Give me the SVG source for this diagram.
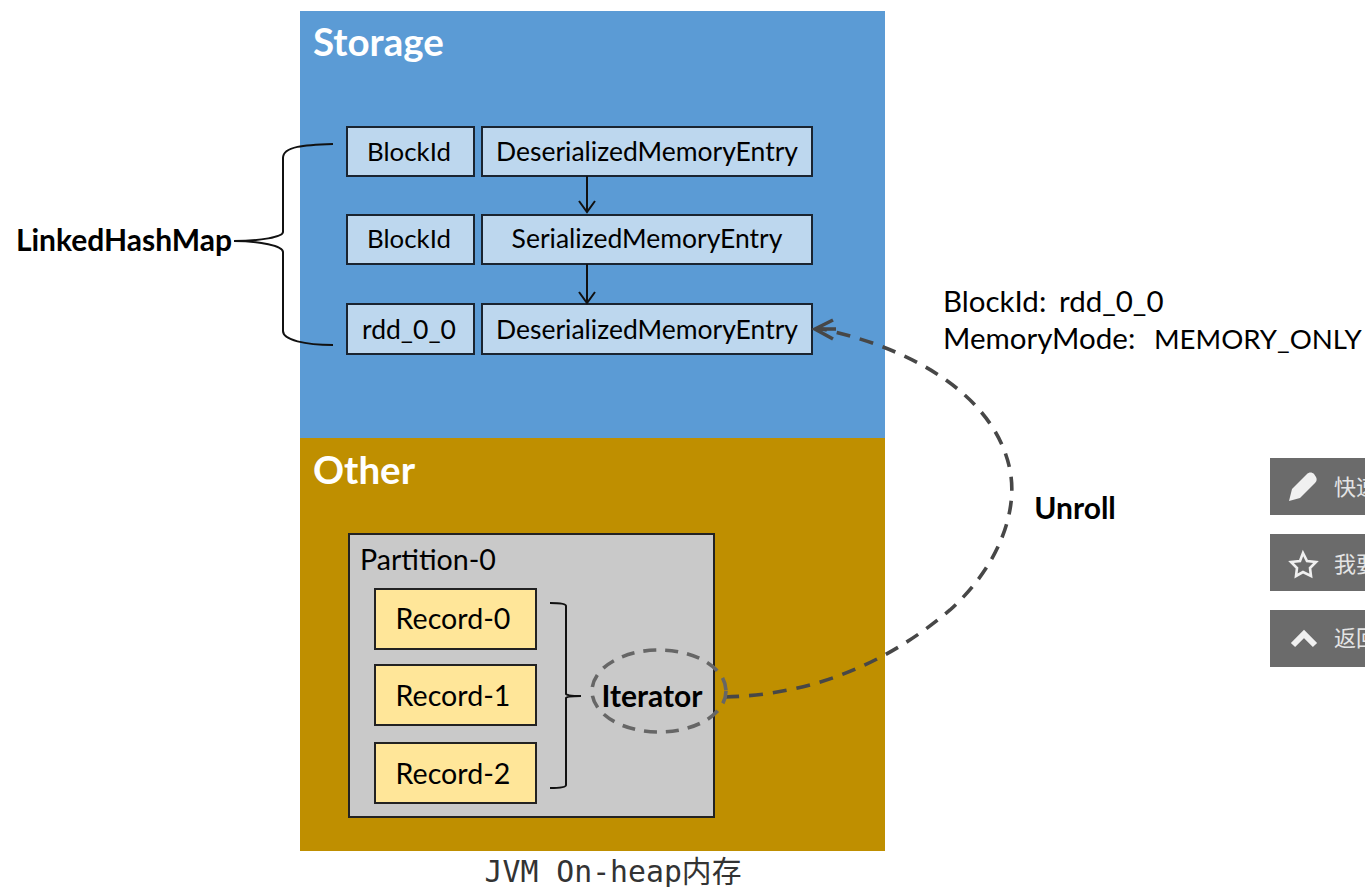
<svg xmlns="http://www.w3.org/2000/svg" width="1365" height="887" viewBox="0 0 1365 887">
<style>
text{font-family:Lato,"Noto Sans",sans-serif;fill:#000;text-anchor:middle}
.h{font-size:38.5px;font-weight:700;fill:#fff;text-anchor:start}
.t{font-size:26.5px}
.k{font-size:25.8px}
.r{font-size:28.6px}
.b{font-size:30px;font-weight:700}
.l{font-size:29.5px;text-anchor:start}
.box{fill:#bdd7ee;stroke:#1a2430;stroke-width:2}
.rec{fill:#ffe699;stroke:#222;stroke-width:2}
.line{fill:none;stroke:#111;stroke-width:2}
.dash{fill:none;stroke:#474747;stroke-width:3.6;stroke-dasharray:14 10}
.btn{fill:#6b6b6b}
.bt{font-family:"Noto Sans CJK SC",sans-serif;font-size:22px;fill:#e4e4e4;text-anchor:start}
.ic{fill:#f0f0f0}
</style>
<defs>
<marker id="a" markerUnits="userSpaceOnUse" markerWidth="24" markerHeight="26" refX="20" refY="13" orient="auto"><path d="M9 5L20 13L9 21M20 13H3" fill="none" stroke="#111" stroke-width="2"/></marker>
</defs>
<rect width="1365" height="887" fill="#fff"/>
<g id="storage"><rect x="300" y="11" width="585" height="427" fill="#5b9bd5"/><text class="h" x="313" y="56">Storage</text></g>
<g id="other"><rect x="300" y="438" width="585" height="413" fill="#bf8f00"/><text class="h" x="313" y="484">Other</text></g>
<g id="partition"><rect x="349" y="534" width="365" height="283" fill="#c9c9c9" stroke="#222" stroke-width="2"/><text class="r" x="360" y="570" style="text-anchor:start">Partition-0</text></g>
<g id="block1"><rect class="box" x="347" y="127" width="127" height="49"/><text class="k" x="409" y="161">BlockId</text></g>
<g id="entry1"><rect class="box" x="482" y="127" width="330" height="49"/><text class="t" x="647" y="161">DeserializedMemoryEntry</text></g>
<g id="block2"><rect class="box" x="347" y="215" width="127" height="49"/><text class="k" x="409" y="248">BlockId</text></g>
<g id="entry2"><rect class="box" x="482" y="215" width="330" height="49"/><text class="t" x="647" y="248">SerializedMemoryEntry</text></g>
<g id="block3"><rect class="box" x="347" y="304" width="127" height="50"/><text class="t" x="409" y="339">rdd_0_0</text></g>
<g id="entry3"><rect class="box" x="482" y="304" width="330" height="50"/><text class="t" x="647" y="339">DeserializedMemoryEntry</text></g>
<g id="record0"><rect class="rec" x="375" y="589" width="161" height="60"/><text class="r" x="453" y="629">Record-0</text></g>
<g id="record1"><rect class="rec" x="375" y="665" width="161" height="60"/><text class="r" x="453" y="706">Record-1</text></g>
<g id="record2"><rect class="rec" x="375" y="743" width="161" height="60"/><text class="r" x="453" y="784">Record-2</text></g>
<g id="connectors">
<path class="line" marker-end="url(#a)" d="M587 176V212"/>
<path class="line" marker-end="url(#a)" d="M587 264V303"/>
<path class="line" d="M333 144C305 145 283 146 283 158V232C283 237 260 241 234 241C260 241 283 246 283 252V331C283 340 305 345 333 345"/>
<path class="line" d="M550 603C560 603 566 604 566 606V694C566 695 570 696 581 696C570 696 566 697 566 698V785C566 787 560 788 550 788"/>
<path class="dash" d="M725 697C810 695 885 665 950 610C1000 565 1018 510 1010 470C996 400 920 350 822 329"/>
<path d="M833 320L815 329L833 339M815 329H836" fill="none" stroke="#474747" stroke-width="3.6"/>
</g>
<g id="iterator"><ellipse cx="659" cy="691" rx="67" ry="41" fill="none" stroke="#666" stroke-width="3.6" stroke-dasharray="13 9"/><text class="b" x="652" y="707">Iterator</text></g>
<g id="linkedhashmap"><text class="b" x="124" y="251">LinkedHashMap</text></g>
<g id="unroll"><text class="b" x="1075" y="519">Unroll</text></g>
<g id="info"><text class="l" x="943" y="312">BlockId:</text><text class="l" x="1059" y="312">rdd_0_0</text><text class="l" x="943" y="349">MemoryMode:</text><text class="l" x="1154" y="349" style="font-size:27.6px">MEMORY_ONLY</text></g>
<text x="613" y="882" style="font-family:'DejaVu Sans Mono','Noto Sans CJK SC',monospace;font-size:29.8px;fill:#333">JVM On-heap内存</text>
<g id="btn1"><rect class="btn" x="1270" y="458" width="95" height="57"/><path class="ic" d="M1289 501L1292 489L1307 474C1309 472 1312 472 1314 474L1316 477C1317 479 1317 481 1315 483L1300 498Z"/><text class="bt" x="1334" y="495">快速</text></g>
<g id="btn2"><rect class="btn" x="1270" y="534" width="95" height="57"/><path d="M1303 553L1307 561L1316 562L1310 568L1311 576L1303 572L1296 576L1297 568L1291 562L1300 561Z" fill="none" stroke="#f0f0f0" stroke-width="2.6"/><text class="bt" x="1334" y="572">我要</text></g>
<g id="btn3"><rect class="btn" x="1270" y="610" width="95" height="57"/><path d="M1293 645L1304 634L1315 645" fill="none" stroke="#f0f0f0" stroke-width="6"/><text class="bt" x="1334" y="646">返回</text></g>
</svg>
